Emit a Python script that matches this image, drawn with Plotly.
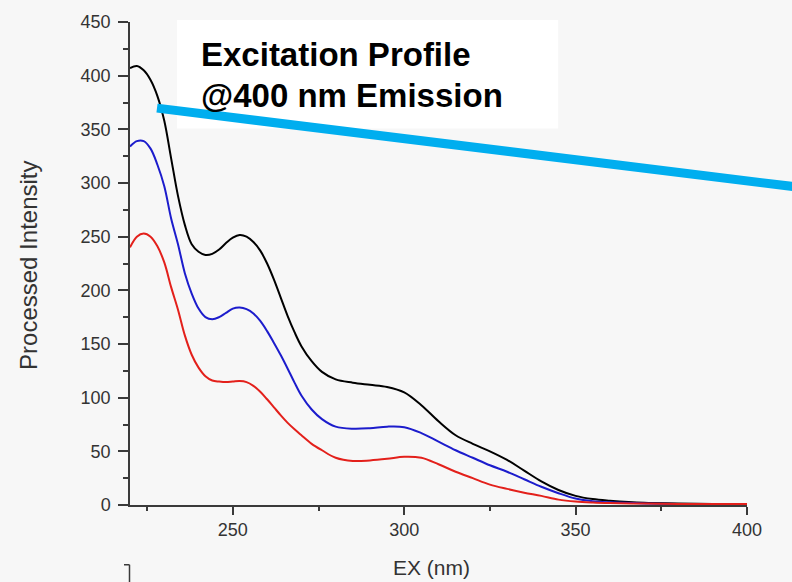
import plotly.graph_objects as go

# ---------------- data ----------------
wavelength = [220, 222, 224, 226, 228, 230, 232, 234, 236, 238, 240, 242, 244, 246, 248,
              250, 252, 254, 256, 258, 260, 262, 264, 266, 268, 270, 273, 276, 280, 285,
              290, 295, 300, 305, 310, 315, 320, 325, 330, 335, 340, 345, 350, 355, 360,
              370, 380, 390, 400]

black_series = [407, 409, 405, 396, 381, 358, 323, 288, 261, 243, 236, 233, 234, 238, 244,
                249, 251.5, 250, 245, 237, 225, 210, 193, 176, 161, 148, 134, 124, 117, 114,
                112, 110, 105, 93, 78, 65, 57, 50, 42, 32, 22, 14, 8.5, 5.5, 4,
                2, 1.5, 1, 1]

blue_series = [334, 339, 339, 332, 317, 297, 267, 243, 216, 197, 183, 175, 173, 175, 179,
               183, 184, 182.5, 178.5, 171.5, 162, 151, 139.5, 127, 114, 102, 89, 80, 73, 71,
               71.5, 73, 72.5, 67, 59, 51, 44, 37, 31, 24, 17, 11, 6, 3.5, 2.5,
               1.5, 1, 1, 1]

red_series = [240, 250, 253, 250, 241, 226, 203, 182, 158, 140, 128, 120, 116, 115, 114.5,
              115, 115.5, 114.5, 111, 105.5, 98.5, 91, 83.5, 76.5, 70.5, 65, 57, 51, 44, 41,
              41.5, 43, 45, 44, 38, 31, 25, 19, 15, 11.5, 8.5, 5, 3.2, 2.3, 1.8,
              1.3, 1, 1, 1]

series_names = ["Sample 1", "Sample 2", "Sample 3"]
series_colors = ["#000000", "#1c1ccc", "#e3201b"]

x_title = "EX (nm)"
y_title = "Processed Intensity"
box_lines = ["Excitation Profile", "@400 nm Emission"]

# ---------------- layout geometry (pixels) ----------------
W, H = 792, 582
L, R, T, B = 130, 45.3, 20, 77
PW, PH = W - L - R, H - T - B


def px(x):
    return (x - L) / PW


def py(y):
    return (H - B - y) / PH


fig = go.Figure()
for name, ys, col in zip(series_names, [black_series, blue_series, red_series], series_colors):
    fig.add_trace(go.Scatter(x=wavelength, y=ys, mode="lines", name=name,
                             line=dict(color=col, width=2, shape="spline", smoothing=1.0)))

axis_color = "#3a3a3a"
font_family = "Liberation Sans, Arial, sans-serif"

fig.update_layout(
    width=W, height=H,
    margin=dict(l=L, r=R, t=T, b=B, pad=0),
    paper_bgcolor="#f7f7f7",
    plot_bgcolor="#f7f7f7",
    showlegend=False,
    font=dict(family=font_family, color="#333333"),
    xaxis=dict(range=[220, 400], tick0=0, dtick=50, showgrid=False, zeroline=False,
               showline=True, linecolor=axis_color, linewidth=1.5,
               ticks="outside", ticklen=8, tickwidth=1.5, tickcolor=axis_color,
               tickfont=dict(size=18, color="#333333", family=font_family),
               minor=dict(dtick=25, ticks="outside", ticklen=4, tickwidth=1.5,
                          tickcolor=axis_color, showgrid=False)),
    yaxis=dict(range=[0, 450], tick0=0, dtick=50, showgrid=False, zeroline=False,
               showline=True, linecolor=axis_color, linewidth=1.5,
               ticks="outside", ticklen=10, tickwidth=1.5, tickcolor=axis_color,
               tickfont=dict(size=18, color="#333333", family=font_family), ticklabelstandoff=4,
               minor=dict(dtick=25, ticks="outside", ticklen=5, tickwidth=1.5,
                          tickcolor=axis_color, showgrid=False)),
)

# white caption box
fig.add_shape(type="rect", xref="paper", yref="paper",
              x0=px(177), x1=px(558), y0=py(127), y1=py(18),
              fillcolor="white", line=dict(width=0), layer="below")

# cyan pointer line
fig.add_shape(type="line", xref="paper", yref="paper",
              x0=px(157), y0=py(106.5), x1=px(795), y1=py(185.5),
              line=dict(color="#00aeef", width=9), layer="above")

# small bracket mark bottom-left
fig.add_shape(type="line", xref="paper", yref="paper",
              x0=px(129.5), y0=py(565), x1=px(129.5), y1=py(584),
              line=dict(color=axis_color, width=1.5))
fig.add_shape(type="line", xref="paper", yref="paper",
              x0=px(124), y0=py(565), x1=px(129.5), y1=py(565),
              line=dict(color=axis_color, width=1.5))

# caption text
fig.add_annotation(xref="paper", yref="paper", x=px(199), y=py(53), xanchor="left", yanchor="middle",
                   text="<b>%s</b>" % box_lines[0], showarrow=False,
                   font=dict(size=33, color="black", family=font_family))
fig.add_annotation(xref="paper", yref="paper", x=px(199), y=py(94), xanchor="left", yanchor="middle",
                   text="<b>%s</b>" % box_lines[1], showarrow=False,
                   font=dict(size=33, color="black", family=font_family))

# axis titles
fig.add_annotation(xref="paper", yref="paper", x=px(431), y=py(568), xanchor="center", yanchor="middle",
                   text=x_title, showarrow=False, font=dict(size=21, color="#333333", family=font_family))
fig.add_annotation(xref="paper", yref="paper", x=px(29), y=py(264), xanchor="center", yanchor="middle",
                   text=y_title, textangle=-90, showarrow=False,
                   font=dict(size=24, color="#333333", family=font_family))

fig.write_html("out.html")
